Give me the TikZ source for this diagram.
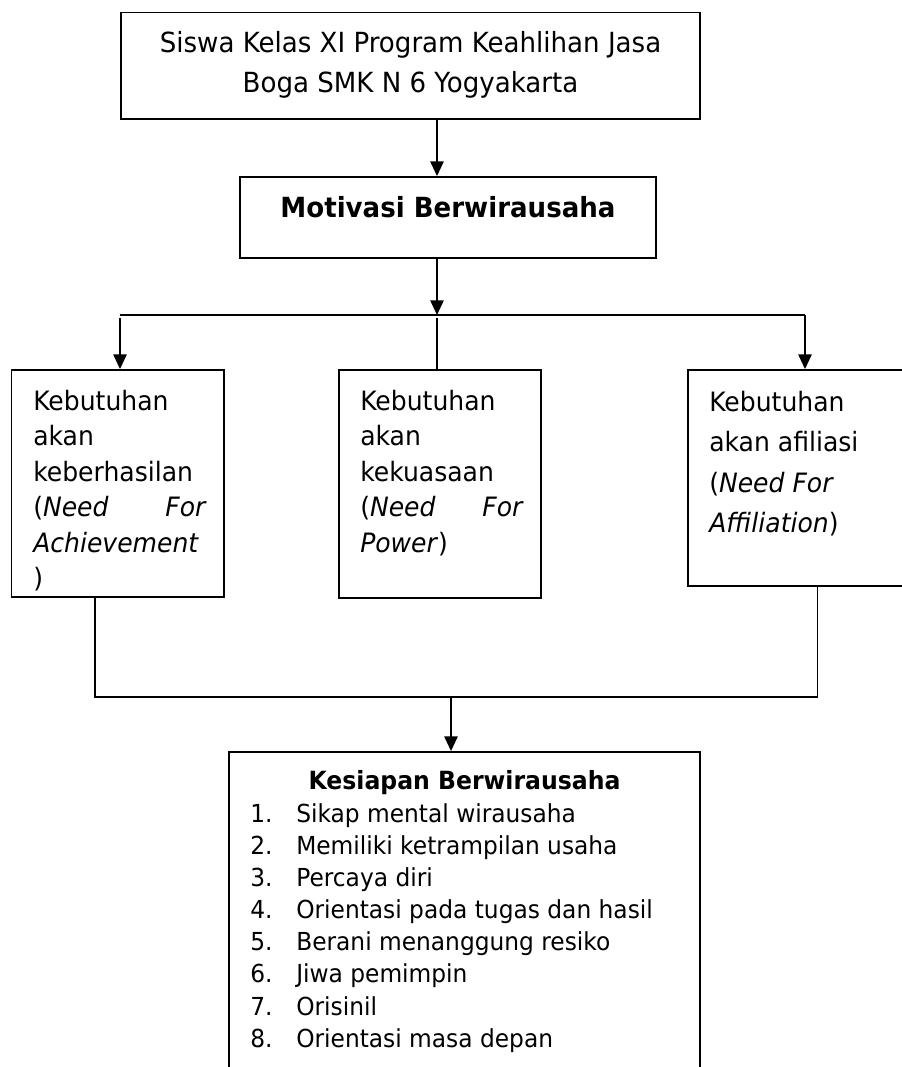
\documentclass[tikz,border=0pt]{standalone}
\usepackage{fontspec}
\setmainfont{DejaVu Sans}[FakeStretch=0.94]
\usetikzlibrary{arrows.meta,fit}
\begin{document}
\begin{tikzpicture}[x=0.75pt,y=-0.75pt,
  box/.style={draw,line width=1.4pt,rectangle,inner sep=0pt},
  conn/.style={line width=1.2pt},
  arr/.style={conn,-{Triangle[length=11pt,width=10pt]}},
  big/.style={font=\fontsize{20.8}{30.4}\selectfont},
  side/.style={font=\fontsize{20}{26.5}\selectfont},
  lst/.style={font=\fontsize{18.6}{24}\selectfont},
  tw/.style={inner sep=0pt,anchor=base west},
  te/.style={inner sep=0pt,anchor=base east},
  tc/.style={inner sep=0pt,anchor=base}]
\useasboundingbox (0,0) rectangle (902,1067);
\fill[white] (0,0) rectangle (902,1067);
\clip (0,0) rectangle (902,1067);

% boxes
\node[box,fit={(121,12.5)(700,119)}] (top) {};
\node[box,fit={(240,177)(656,258)}] (mot) {};
\node[box,fit={(11.5,370)(224,597)}] (ach) {};
\node[box,fit={(339,370)(541,598)}] (pow) {};
\node[box,fit={(688,370)(915,586)}] (aff) {};
\node[box,fit={(229,752)(700,1085)}] (kes) {};

% texts
\node[big,tc] (t1) at (410.5,52) {Siswa Kelas XI Program Keahlihan Jasa};
\node[big,tc] (t2) at (410.5,92.5) {Boga SMK N 6 Yogyakarta};
\node[big,tc,font=\fontsize{20.8}{30.4}\selectfont\bfseries] (m1) at (448,217) {Motivasi Berwirausaha};

\node[side,tw] (a1) at (33,410) {Kebutuhan};
\node[side,tw] (a2) at (33,445.5) {akan};
\node[side,tw] (a3) at (33,481) {keberhasilan};
\node[side,tw] (a4) at (33,516.5) {(\textit{Need}};
\node[side,te] (a4b) at (207,516.5) {\textit{For}};
\node[side,tw] (a5) at (33,552) {\textit{Achievement}};
\node[side,tw] (a6) at (33,587.5) {)};

\node[side,tw] (p1) at (360,410) {Kebutuhan};
\node[side,tw] (p2) at (360,445.5) {akan};
\node[side,tw] (p3) at (360,481) {kekuasaan};
\node[side,tw] (p4) at (360,516.5) {(\textit{Need}};
\node[side,te] (p4b) at (524,516.5) {\textit{For}};
\node[side,tw] (p5) at (360,552) {\textit{Power})};

\node[side,tw] (f1) at (709,411) {Kebutuhan};
\node[side,tw] (f2) at (709,451) {akan afiliasi};
\node[side,tw] (f3) at (709,492) {(\textit{Need For}};
\node[side,tw] (f4) at (709,532) {\textit{Affiliation})};

\node[tc,font=\fontsize{18.8}{24}\selectfont\bfseries] (k0) at (464.5,789.3) {Kesiapan Berwirausaha};
\foreach \i/\t in {1/Sikap mental wirausaha,2/Memiliki ketrampilan usaha,3/Percaya diri,4/Orientasi pada tugas dan hasil,5/Berani menanggung resiko,6/Jiwa pemimpin,7/Orisinil,8/Orientasi masa depan}{
  \node[lst,tw] (kn\i) at (250,{790.65+32.05*\i}) {\i.};
  \node[lst,tw] (kt\i) at (296,{790.65+32.05*\i}) {\t};
}

% connectors
\coordinate (jx) at (437,315);
\coordinate (hl) at (120,315);
\coordinate (hr) at (805,315);
\coordinate (bl) at (95,697);
\coordinate (br) at (817.5,697);
\coordinate (bj) at (451,697);

\draw[arr] (top.south -| jx) -- (mot.north -| jx);
\draw[arr] (mot.south -| jx) -- (jx);
\draw[line width=1.6pt] (hl) -- (hr);
\draw[arr] ([yshift=-2.5pt]hl) -- (ach.north -| hl);
\draw[arr] (hr) -- (aff.north -| hr);
\draw[conn] ([yshift=-2.5pt]jx) -- (pow.north -| jx);
\draw[conn] (ach.south -| bl) -- (bl) -- (br) -- (aff.south -| br);
\draw[arr] (bj) -- (kes.north -| bj);
\end{tikzpicture}
\end{document}
